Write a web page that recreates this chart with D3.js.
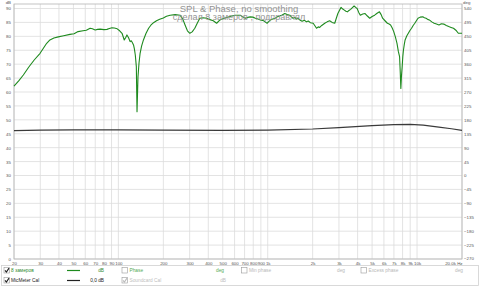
<!DOCTYPE html>
<html>
<head>
<meta charset="utf-8">
<script src="https://cdn.jsdelivr.net/npm/d3@7"></script>
<style>
  body { margin: 0; background: #fff; }
  svg { display: block; font-family: "Liberation Sans", Arial, sans-serif; }
</style>
</head>
<body>
<div id="chart"></div>
<script>
const width = 480, height = 286;

// SPL trace "8 замеров" (Hz, dB)
const splFreq = [20, 21.5, 23.1, 25, 27.3, 29.9, 33.1, 34.8, 37, 39.6, 43, 47.4, 50.5, 53.7, 58, 61, 64.7, 67, 69.9, 72.5,
  75.6, 80, 83.9, 87, 90.7, 94, 98.2, 102, 105.8, 109.5, 112, 114.1, 117, 119.8, 122, 124, 126.3, 128, 129.8, 131.9,
  133.3, 135.3, 137.5, 139.8, 143, 147.2, 153, 159.4, 165, 171.9, 180, 189.1, 200, 210, 222, 240, 259, 270, 280, 290,
  301, 312, 325, 338, 351, 370, 390, 410, 432, 455, 479, 505, 532, 565, 605, 655, 680, 708, 735, 764,
  795, 827, 860, 894, 940, 965, 990, 1015, 1043, 1080, 1121, 1160, 1200, 1250, 1300, 1350, 1405, 1440, 1477, 1520,
  1560, 1600, 1640, 1700, 1760, 1815, 1870, 1930, 2016, 2070, 2122, 2180, 2230, 2300, 2410, 2500, 2600, 2700, 2810, 2880,
  2950, 3020, 3100, 3180, 3260, 3340, 3420, 3500, 3590, 3690, 3790, 3880, 3970, 4070, 4170, 4330, 4490, 4650, 4820, 5000,
  5200, 5400, 5600, 5750, 5880, 6100, 6330, 6500, 6650, 6820, 6980, 7160, 7340, 7500, 7640, 7720, 7790, 7870, 7950, 8030,
  8110, 8210, 8320, 8530, 8740, 8960, 9190, 9420, 9660, 9900, 10150, 10500, 10930, 11200, 11490, 11780, 12080, 12550, 13020, 13500,
  14020, 14550, 15100, 15700, 16290, 16900, 17540, 18200, 18900, 20000];
const splDb = [62.1, 64.0, 66.1, 68.8, 71.5, 73.9, 77.5, 78.7, 79.4, 79.8, 80.2, 80.7, 80.9, 81.7, 82.0, 82.2, 82.9, 82.7, 82.3, 82.5,
  82.6, 82.4, 82.5, 82.8, 83.1, 83.0, 82.7, 82.0, 81.1, 78.7, 79.6, 80.5, 79.5, 78.1, 78.4, 77.8, 76.9, 75.5, 73.3, 69.1,
  52.9, 65.5, 70.5, 73.9, 76.5, 78.7, 81.0, 82.9, 84.0, 84.9, 85.6, 86.1, 86.6, 87.2, 87.6, 87.8, 87.6, 86.2, 84.0, 82.0,
  81.1, 81.6, 82.9, 84.8, 86.5, 86.7, 86.5, 86.0, 85.6, 84.7, 85.9, 86.4, 86.8, 87.2, 87.6, 87.6, 87.0, 86.5, 86.8, 87.0,
  86.9, 86.5, 86.2, 85.9, 85.6, 85.1, 84.7, 85.3, 85.9, 86.2, 86.5, 87.0, 87.3, 87.7, 88.2, 87.8, 87.6, 87.0, 86.5, 86.8,
  86.2, 86.4, 85.9, 85.4, 85.8, 85.2, 85.5, 84.9, 84.7, 83.8, 82.9, 83.4, 83.2, 83.9, 84.7, 85.2, 85.6, 85.0, 84.7, 86.5,
  88.2, 89.3, 90.4, 89.8, 89.4, 89.0, 88.8, 89.3, 89.7, 90.3, 90.9, 90.4, 90.0, 88.6, 87.6, 88.0, 88.2, 87.3, 86.5, 87.1,
  87.6, 88.3, 88.8, 87.8, 86.5, 85.6, 84.7, 84.4, 84.1, 83.0, 81.7, 79.8, 77.5, 74.5, 72.7, 67.0, 61.3, 66.0, 69.1, 72.8,
  75.1, 77.0, 78.7, 80.1, 81.1, 82.1, 82.9, 83.9, 84.7, 85.6, 86.5, 86.9, 87.0, 86.7, 86.5, 86.1, 85.9, 85.2, 84.7, 84.4,
  84.1, 84.5, 84.4, 83.9, 83.5, 83.2, 82.9, 82.2, 81.1, 81.1];

// MicMeter Cal trace (Hz, dB)
const calFreq = [20, 30, 50, 100, 200, 500, 1000, 2000, 3000, 5000, 7000, 9000, 11000, 14000, 17000, 20000];
const calDb = [46.1, 46.3, 46.4, 46.4, 46.3, 46.2, 46.3, 46.7, 47.2, 47.9, 48.3, 48.4, 48.1, 47.4, 46.8, 46.2];

// axes
const freqTicks = [20, 30, 40, 50, 60, 70, 80, 90, 100, 200, 300, 400, 500, 600, 700, 800, 900,
  1000, 2000, 3000, 4000, 5000, 6000, 7000, 8000, 9000, 10000, 20000];
const freqLabels = ["20", "30", "40", "50", "60", "70", "80", "90", "100", "200", "300", "400", "500", "600", "700", "800", "900",
  "1k", "2k", "3k", "4k", "5k", "6k", "7k", "8k", "9k", "10k", "20.0k Hz"];
const dbTicks = [0, 5, 10, 15, 20, 25, 30, 35, 40, 45, 50, 55, 60, 65, 70, 75, 80, 85, 90];
const degTicks = [-270, -225, -180, -135, -90, -45, 0, 45, 90, 135, 180, 225, 270, 315, 360, 405, 450, 495, 540];

const plotLeft = 14, plotRight = 462, plotTop = 4, plotBottom = 259;

const x = d3.scaleLog().domain([20, 20000]).range([plotLeft, plotRight]);
const y = d3.scaleLinear().domain([0, 90]).range([plotBottom, 8.5]);
const yDeg = d3.scaleLinear().domain([-270, 540]).range([plotBottom, 8.5]);

const svg = d3.create("svg")
  .attr("width", width)
  .attr("height", height)
  .attr("viewBox", [0, 0, width, height]);

svg.append("rect").attr("width", width).attr("height", height).attr("fill", "#fff");

// grid
const grid = svg.append("g").attr("stroke", "#dcdcdc").attr("stroke-width", 0.8);
grid.selectAll("line.v").data(freqTicks).join("line")
  .attr("x1", d => x(d)).attr("x2", d => x(d))
  .attr("y1", plotTop).attr("y2", plotBottom);
grid.selectAll("line.h").data(dbTicks).join("line")
  .attr("x1", plotLeft).attr("x2", plotRight)
  .attr("y1", d => y(d)).attr("y2", d => y(d));

// frame
svg.append("rect")
  .attr("x", plotLeft).attr("y", plotTop)
  .attr("width", plotRight - plotLeft).attr("height", plotBottom - plotTop)
  .attr("fill", "none").attr("stroke", "#b4b4b4").attr("stroke-width", 0.8);

// axes labels
const tickFont = 4.4;
const xAxis = d3.axisBottom(x).tickValues(freqTicks).tickSize(0).tickPadding(2.5)
  .tickFormat((d, i) => freqLabels[i]);
svg.append("g").attr("transform", `translate(0,${plotBottom})`).call(xAxis)
  .call(g => g.select(".domain").remove())
  .call(g => g.selectAll("text").attr("font-size", tickFont).attr("fill", "#555").attr("font-family", null))
  .call(g => g.selectAll(".tick").filter(d => d === 20000).select("text")
    .attr("text-anchor", "end").attr("dx", 0));

const yAxis = d3.axisLeft(y).tickValues(dbTicks).tickSize(0).tickPadding(3);
svg.append("g").attr("transform", `translate(${plotLeft},0)`).call(yAxis)
  .call(g => g.select(".domain").remove())
  .call(g => g.selectAll("text").attr("font-size", tickFont).attr("fill", "#555").attr("font-family", null));

const degAxis = d3.axisRight(yDeg).tickValues(degTicks).tickSize(0).tickPadding(2);
svg.append("g").attr("transform", `translate(${plotRight},0)`).call(degAxis)
  .call(g => g.select(".domain").remove())
  .call(g => g.selectAll("text").attr("font-size", tickFont).attr("fill", "#555").attr("font-family", null))
  .call(g => g.selectAll(".tick").filter(d => d === -270).select("text").attr("dy", "0.1em"));

svg.append("text").attr("x", 11).attr("y", 3.5).attr("text-anchor", "end")
  .attr("font-size", tickFont).attr("fill", "#555").text("dB");
svg.append("text").attr("x", 463).attr("y", 3.5)
  .attr("font-size", tickFont).attr("fill", "#555").text("deg");

// curves
const line = d3.line().x(d => x(d[0])).y(d => y(d[1])).curve(d3.curveLinear);

svg.append("path")
  .datum(calFreq.map((f, i) => [f, calDb[i]]))
  .attr("d", line)
  .attr("fill", "none").attr("stroke", "#3a3a3a").attr("stroke-width", 1.2);

svg.append("path")
  .datum(splFreq.map((f, i) => [f, splDb[i]]))
  .attr("d", line)
  .attr("fill", "none").attr("stroke", "#1e8a1e").attr("stroke-width", 1.1)
  .attr("stroke-linejoin", "round");

// title
svg.append("text").attr("x", 239).attr("y", 11.5).attr("text-anchor", "middle")
  .attr("font-size", 9.5).attr("fill", "#939393").text("SPL & Phase, no smoothing");
svg.append("text").attr("x", 239).attr("y", 20).attr("text-anchor", "middle")
  .attr("font-size", 9).attr("fill", "#939393").text("сделал 8 замеров , подправлял");

// legend
const legend = svg.append("g");
legend.append("rect").attr("x", 1.5).attr("y", 265.5).attr("width", 477).attr("height", 20)
  .attr("fill", "#fff").attr("stroke", "#d0d0d0").attr("stroke-width", 0.8);

const rows = [270.5, 280.5];
function checkbox(cx, cy, checked, color) {
  legend.append("rect").attr("x", cx).attr("y", cy - 3).attr("width", 5.5).attr("height", 5.5)
    .attr("fill", "#fff").attr("stroke", "#999").attr("stroke-width", 0.6);
  if (checked) {
    legend.append("path")
      .attr("d", `M${cx + 1},${cy - 0.2}L${cx + 2.4},${cy + 1.6}L${cx + 5},${cy - 2.4}`)
      .attr("fill", "none").attr("stroke", color).attr("stroke-width", 1.1);
  }
}
function label(tx, ty, str, color, anchor) {
  legend.append("text").attr("x", tx).attr("y", ty + 1.6)
    .attr("font-size", 4.8).attr("fill", color).attr("text-anchor", anchor || "start").text(str);
}

checkbox(4, rows[0], true, "#222");
label(11, rows[0], "8 замеров", "#2e8b2e");
legend.append("line").attr("x1", 67).attr("x2", 80).attr("y1", rows[0]).attr("y2", rows[0])
  .attr("stroke", "#1e8a1e").attr("stroke-width", 1.2);
label(104, rows[0], "dB", "#2e8b2e", "end");
checkbox(122, rows[0], false);
label(129.5, rows[0], "Phase", "#55aa55");
label(224, rows[0], "deg", "#55aa55", "end");
checkbox(241.5, rows[0], false);
label(249, rows[0], "Min phase", "#b8b8b8");
label(345, rows[0], "deg", "#b8b8b8", "end");
checkbox(361, rows[0], false);
label(368.5, rows[0], "Excess phase", "#b8b8b8");
label(463, rows[0], "deg", "#b8b8b8", "end");

checkbox(4, rows[1], true, "#222");
label(11, rows[1], "MicMeter Cal", "#222");
legend.append("line").attr("x1", 67).attr("x2", 80).attr("y1", rows[1]).attr("y2", rows[1])
  .attr("stroke", "#222").attr("stroke-width", 1.2);
label(104, rows[1], "0,0 dB", "#222", "end");
checkbox(122, rows[1], true, "#bbb");
label(129.5, rows[1], "Soundcard Cal", "#c0c0c0");
label(226, rows[1], "dB", "#c0c0c0", "end");

d3.select("#chart").append(() => svg.node());
</script>
</body>
</html>
